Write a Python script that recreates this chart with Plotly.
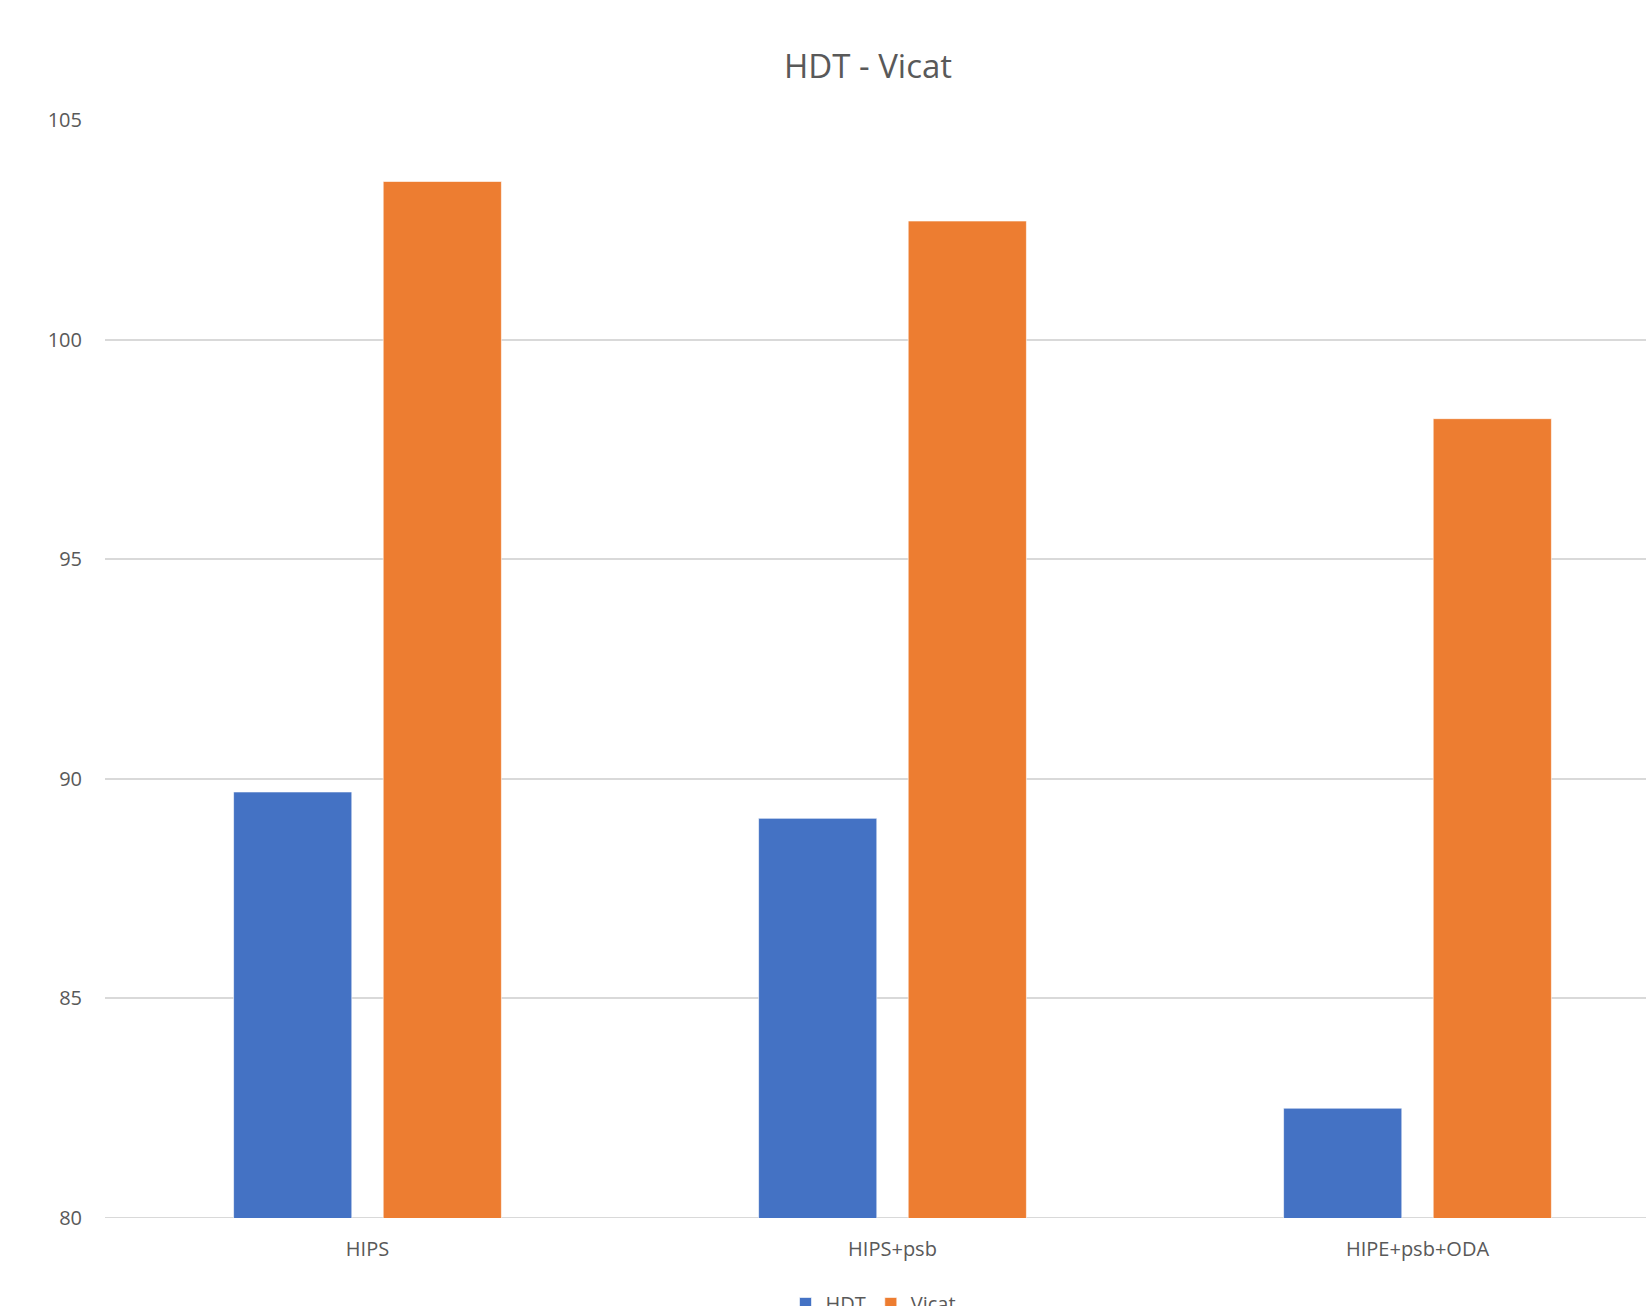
import plotly.graph_objects as go

# Heat resistance of the three blends (°C)
categories = ["HIPS", "HIPS+psb", "HIPE+psb+ODA"]
hdt_values = [89.7, 89.1, 82.5]
vicat_values = [103.6, 102.7, 98.2]
y_ticks = [80, 85, 90, 95, 100, 105]

FONT = "Open Sans"
TEXT_GREY = "#595959"

W, H = 1646, 1306
L, T, B = 105, 120, 88
plot_w = W - L
plot_h = H - T - B

fig = go.Figure()
fig.add_trace(go.Bar(
    name="HDT", x=categories, y=hdt_values,
    marker=dict(color="#4472C4", line=dict(color="rgba(255,255,255,0.6)", width=1)),
))
fig.add_trace(go.Bar(
    name="Vicat", x=categories, y=vicat_values,
    marker=dict(color="#ED7D31", line=dict(color="rgba(255,255,255,0.6)", width=1)),
))

fig.update_layout(
    width=W, height=H,
    margin=dict(l=L, r=0, t=T, b=B, autoexpand=False),
    paper_bgcolor="white", plot_bgcolor="white",
    barmode="group", bargap=0.43, bargroupgap=0.21,
    font=dict(family=FONT, color=TEXT_GREY, size=20),
    title=dict(
        text="HDT - Vicat", x=868 / W, xref="container", xanchor="center",
        y=1 - 66 / H, yref="container", yanchor="middle",
        font=dict(family=FONT, size=33, color=TEXT_GREY),
    ),
    xaxis=dict(
        range=[-0.5, -0.5 + plot_w / 525], showgrid=False, showline=False,
        ticks="", tickfont=dict(size=20, color=TEXT_GREY), ticklabelstandoff=17,
    ),
    yaxis=dict(
        range=[80, 105], tickvals=y_ticks, showgrid=True, gridcolor="#D9D9D9",
        gridwidth=1.5, zeroline=False, showline=False, ticks="",
        tickfont=dict(size=20, color=TEXT_GREY), ticklabelstandoff=22,
    ),
    legend=dict(
        orientation="h", x=(873.5 - L) / plot_w, xanchor="center",
        y=-66 / plot_h, yanchor="top",
        font=dict(size=20, color=TEXT_GREY), itemwidth=30,
        traceorder="normal",
    ),
    showlegend=True,
)
# baseline at 80
fig.add_shape(type="line", xref="paper", yref="y", x0=0, x1=1, y0=80, y1=80,
              line=dict(color="#D9D9D9", width=2), layer="below")

fig.write_html("out.html")
